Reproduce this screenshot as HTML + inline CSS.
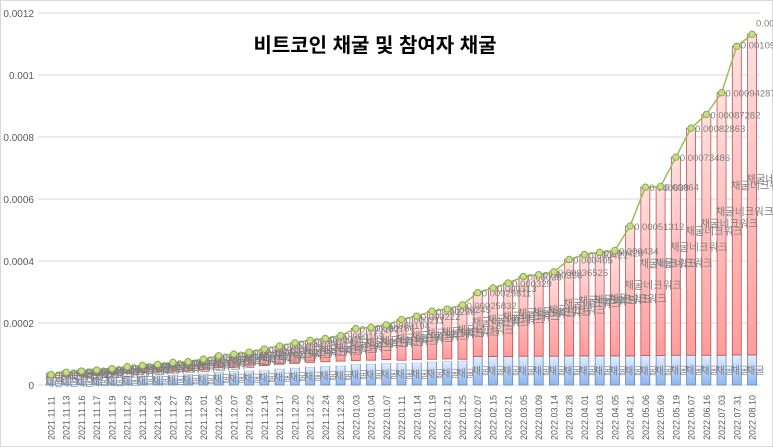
<!DOCTYPE html>
<html><head><meta charset="utf-8">
<style>
html,body{margin:0;padding:0;background:#fff;width:773px;height:447px;overflow:hidden}
svg{display:block;font-family:"Liberation Sans","Noto Sans CJK KR",sans-serif}
</style></head>
<body>
<svg id="chart" width="773" height="447" viewBox="0 0 773 447" xmlns="http://www.w3.org/2000/svg">
<defs>
<linearGradient id="gb" x1="0" y1="0" x2="0" y2="1"><stop offset="0" stop-color="#e3eefc"/><stop offset="1" stop-color="#8fb4ee"/></linearGradient>
<linearGradient id="gr" x1="0" y1="0" x2="0" y2="1"><stop offset="0" stop-color="#ffe0e0"/><stop offset="1" stop-color="#ff9c9c"/></linearGradient>
</defs>
<rect x="0.5" y="0.5" width="772" height="446" fill="#fff" stroke="#d9d9d9"/>
<g id="grid"></g>
<g id="bars"></g>
<g id="labels"></g>
<g id="line"></g>
<text x="375" y="52" text-anchor="middle" font-size="20" font-weight="bold" fill="#000">비트코인 채굴 및 참여자 채굴</text>
</svg>
<script>
const categories = ["2021.11.11","2021.11.13","2021.11.16","2021.11.17","2021.11.19","2021.11.22","2021.11.23","2021.11.24","2021.11.27","2021.11.29","2021.12.01","2021.12.05","2021.12.07","2021.12.09","2021.12.14","2021.12.17","2021.12.20","2021.12.22","2021.12.24","2021.12.28","2022.01.03","2022.01.04","2022.01.07","2022.01.11","2022.01.14","2022.01.19","2022.01.21","2022.01.25","2022.02.07","2022.02.15","2022.02.21","2022.03.05","2022.03.09","2022.03.14","2022.03.28","2022.04.01","2022.04.03","2022.04.05","2022.04.21","2022.05.06","2022.05.09","2022.05.19","2022.06.07","2022.06.16","2022.07.03","2022.07.31","2022.08.10"];
const blueVals = [15,18,20,22,24,26,28,30,32,34,36,42,44,46,48,52,55,58,60,62,67,68,70,70,72,75,76,78,92,92,92,93,93,93,94,94,94,94,94,95,95,96,96,96,96,97,97];
const whiteVals = [8,10,10,10,11,12,12,12,13,13,14,14,14,15,15,15,15,15,15,15,12,12,12,10,10,8,8,5,0,0,0,0,0,0,0,0,0,0,0,0,0,0,0,0,0,0,0];
const redVals = [10.1,12.9,15,16.3,17.5,21,23.3,24.6,28,28,33.6,38.3,41.7,45,53,59,66,71,75,82,103,106,112,131,140,155,161,175.3,206.1,221,237,257,263,272.3,311,327,334,340,419.1,543,545,638.9,732.6,776.8,846.9,995.6,1034.4];
const totalVals = [33.1,40.9,45,48.3,52.5,59,63.3,66.6,73,75,83.6,94.3,99.7,106,116,126,136,144,150,159,182,186,194,211,222,238,245,258.32,298.11,313,329,350,356,365.25,405,421,428,434,513.12,638,640,734.86,828.63,872.82,942.87,1092.61,1131.35];
const yTicks = [0,0.0002,0.0004,0.0006,0.0008,0.001,0.0012];
const yTickLabels = ["0","0.0002","0.0004","0.0006","0.0008","0.001","0.0012"];

const NS="http://www.w3.org/2000/svg";
const y0=385, yTop=13, x0=51, step=15.24, bw=9, scale=1e-6;
function yPos(v){return y0-(v/0.0012)*(y0-yTop);}
function xPos(i){return x0+i*step;}
function mk(tag,attrs,parent){const e=document.createElementNS(NS,tag);for(const k in attrs)e.setAttribute(k,attrs[k]);parent.appendChild(e);return e;}
const grid=document.getElementById('grid'),bars=document.getElementById('bars'),labels=document.getElementById('labels'),line=document.getElementById('line');

yTicks.forEach((t,i)=>{
  const y=yPos(t);
  if(i>0){const l=mk('line',{x1:38,x2:760,y1:y,y2:y,stroke:'#d9d9d9','stroke-width':1},grid);
  
  }
  const tx=mk('text',{x:34,y:y+4,'text-anchor':'end','font-size':10,fill:'#595959'},grid);
  tx.textContent=yTickLabels[i];
  
  
});
const base=mk('line',{x1:38,x2:760,y1:y0,y2:y0,stroke:'#d9d9d9'},grid);



categories.forEach((c,i)=>{
  const x=xPos(i)-bw/2;
  const b=blueVals[i]*scale, w=whiteVals[i]*scale, r=redVals[i]*scale;
  const rb=mk('rect',{x:x,y:yPos(b),width:bw,height:y0-yPos(b),fill:'url(#gb)',stroke:'#5b88d6','stroke-width':0.8},bars);
  
  
  const rw=mk('rect',{x:x,y:yPos(b+w),width:bw,height:yPos(b)-yPos(b+w),fill:'#fff',stroke:'#e0e0e0','stroke-width':0.5},bars);
  
  
  const rr=mk('rect',{x:x,y:yPos(b+w+r),width:bw,height:yPos(b+w)-yPos(b+w+r),fill:'url(#gr)',stroke:'#c0504d','stroke-width':0.8},bars);
  
  
  const cl=mk('text',{transform:'translate('+(xPos(i)+3.5)+',440) rotate(-90)','font-size':9,fill:'#595959'},labels);
  cl.textContent=c;
  
  
  const bl=mk('text',{x:xPos(i)-6,y:yPos(b/2)+4,'font-size':10,fill:'#7f7f7f'},labels);
  bl.textContent='채굴';
  
  
  const rl=mk('text',{x:xPos(i)-6,y:yPos(b+w+r*0.55)+4,'font-size':10.5,fill:'#7f7f7f'},labels);
  rl.textContent='채굴네크워크';
  
  
});

let pts=totalVals.map((v,i)=>xPos(i)+','+yPos(v*scale)).join(' ');
const pl=mk('polyline',{points:pts,fill:'none',stroke:'#9bbb59','stroke-width':1.5},line);


totalVals.forEach((v,i)=>{
  const c=mk('circle',{cx:xPos(i),cy:yPos(v*scale),r:3.2,fill:'#c4de8a',stroke:'#8aab4a','stroke-width':1},line);
  
  
  const t=mk('text',{x:xPos(i)+4,y:yPos(v*scale)+(i>=45?-8+ (i==45?10:0):4),'font-size':9.5,fill:'#7f7f7f'},line);
  t.textContent=(v*scale).toFixed(8).replace(/0+$/,'');
  
  
});
</script>
</body></html>
